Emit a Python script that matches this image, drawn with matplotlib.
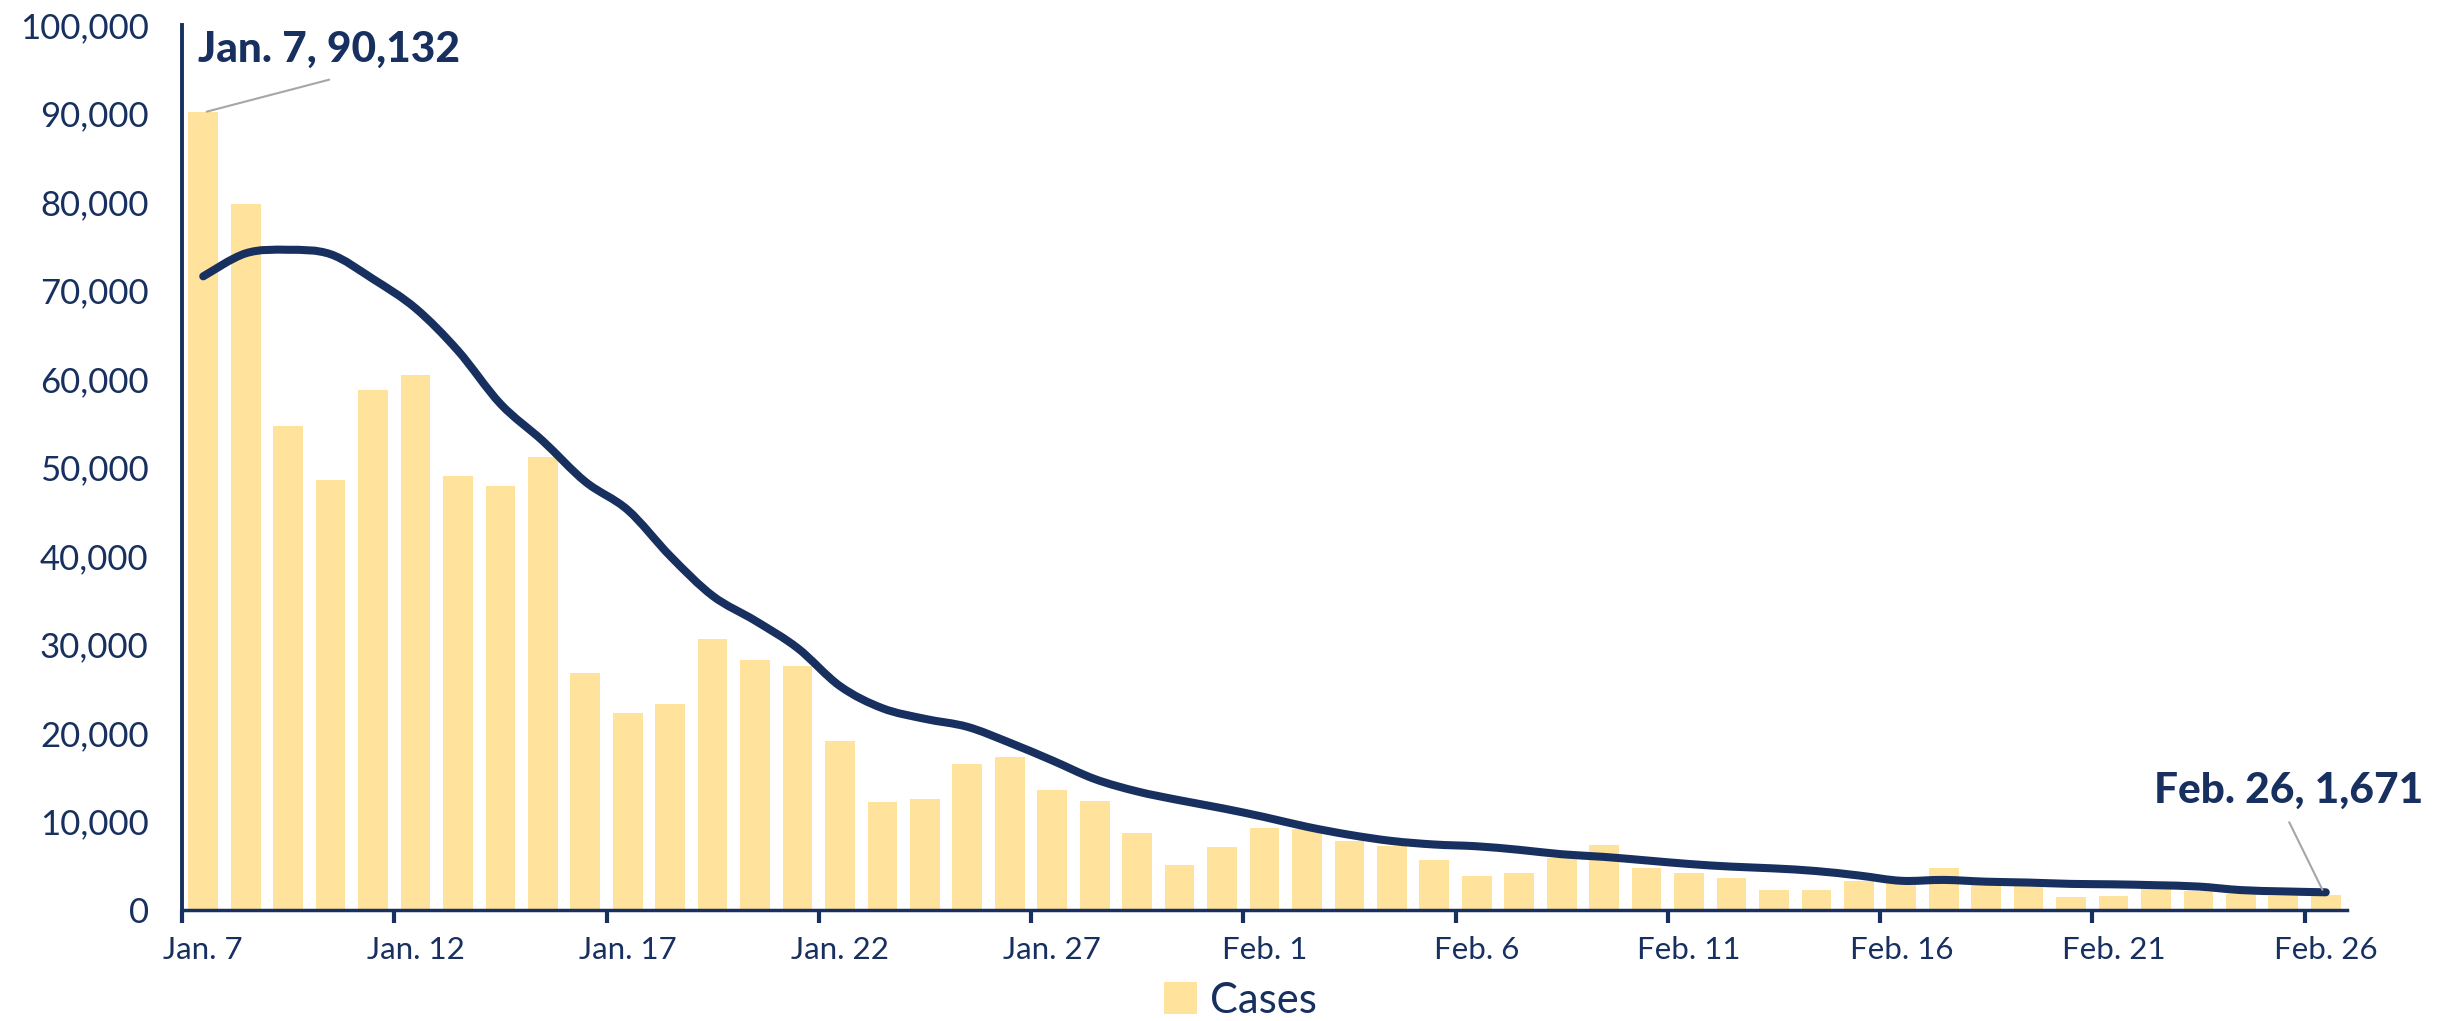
import matplotlib
matplotlib.use("Agg")
import matplotlib.pyplot as plt
from matplotlib.path import Path
from matplotlib.patches import PathPatch, Patch
import numpy as np

# ---- data ----
dates = (["Jan. %d" % d for d in range(7, 32)] +
         ["Feb. %d" % d for d in range(1, 27)])
cases = [90132, 79800, 54700, 48600, 58800, 60400, 49000, 47900, 51200,
         26800, 22300, 23300, 30600, 28300, 27600,
         19100, 12200, 12500, 16500, 17300, 13600, 12300, 8700, 5100, 7100,
         9300, 9100, 7800, 7200, 5600, 3800, 4200, 5900, 7400, 4700,
         4200, 3600, 2300, 2250, 3300, 3200, 4800, 3100, 2700, 1450,
         1550, 2400, 2200, 1800, 1600, 1671]
avg = [71600, 74200, 74600, 74100, 71300, 68000, 63200, 57200, 53000,
       48400, 45200, 40000, 35500, 32700, 29600,
       25300, 22800, 21600, 20700, 18900, 16900, 14800, 13400, 12400, 11500,
       10500, 9400, 8500, 7800, 7400, 7200, 6800, 6300, 6000, 5600,
       5200, 4900, 4700, 4400, 3900, 3300, 3400, 3200, 3100, 2950,
       2900, 2800, 2650, 2250, 2100, 2000]
tick_labels_every = 5
yticks = list(range(0, 100001, 10000))

NAVY = "#17305f"
BAR = "#ffe29b"
GRAY = "#a6a6a6"

plt.rcParams['font.family'] = ['Lato', 'DejaVu Sans']

fig = plt.figure(figsize=(24.43, 10.21), dpi=100)
ax = fig.add_axes([182/2443, 1-910/1021, (2347-182)/2443, (910-25)/1021])

x = np.arange(len(dates))
ax.bar(x, cases, width=0.7, color=BAR, zorder=2, label="Cases")

# smooth line (Catmull-Rom rendered as cubic Bezier path)
pts = np.column_stack([x, avg]).astype(float)
verts = [tuple(pts[0])]
codes = [Path.MOVETO]
n = len(pts)
for i in range(n - 1):
    p0 = pts[i - 1] if i > 0 else pts[i]
    p1 = pts[i]
    p2 = pts[i + 1]
    p3 = pts[i + 2] if i + 2 < n else pts[i + 1]
    c1 = p1 + (p2 - p0) / 6.0
    c2 = p2 - (p3 - p1) / 6.0
    verts += [tuple(c1), tuple(c2), tuple(p2)]
    codes += [Path.CURVE4] * 3
patch = PathPatch(Path(verts, codes), fill=False, edgecolor=NAVY, lw=5.8,
                  capstyle='round', joinstyle='round', zorder=3)
ax.add_patch(patch)

ax.set_xlim(-0.5, len(dates) - 0.5)
ax.set_ylim(0, 100000)

# ticks
lab_idx = list(range(0, len(dates), tick_labels_every))
ax.set_xticks(lab_idx)
ax.set_xticklabels([dates[i] for i in lab_idx])
ax.set_xticks([i - 0.5 for i in lab_idx], minor=True)
ax.tick_params(axis='x', which='major', length=0, pad=19, labelsize=22.5, labelcolor=NAVY)
ax.tick_params(axis='x', which='minor', length=9, width=3, color=NAVY)
ax.set_yticks(yticks)
ax.set_yticklabels(["{:,}".format(v) for v in yticks])
ax.tick_params(axis='y', length=0, pad=24, labelsize=25, labelcolor=NAVY)

for s in ['top', 'right']:
    ax.spines[s].set_visible(False)
ax.spines['left'].set_color(NAVY)
ax.spines['left'].set_linewidth(2.8)
ax.spines['bottom'].set_color(NAVY)
ax.spines['bottom'].set_linewidth(2.5)

# annotations
ax.annotate("", xy=(0.02, cases[0]), xytext=(3.03, 93900),
            arrowprops=dict(arrowstyle='-', color=GRAY, lw=1.5), zorder=4)
ax.text(-0.12, 97200, "Jan. 7, 90,132", fontsize=30.5, fontweight='black',
        color=NAVY, ha='left', va='center', zorder=5)
ax.annotate("", xy=(49.95, avg[-1]), xytext=(49.11, 10200),
            arrowprops=dict(arrowstyle='-', color=GRAY, lw=1.5), zorder=4)
ax.text(45.96, 13450, "Feb. 26, 1,671", fontsize=30.5, fontweight='black',
        color=NAVY, ha='left', va='center', clip_on=False, zorder=5)

handle = Patch(facecolor=BAR, edgecolor='none')
leg = fig.legend([handle], ["Cases"], loc='center', bbox_to_anchor=(0.5076, 0.02),
                 frameon=False, handlelength=0.8, handleheight=0.8,
                 handletextpad=0.3, fontsize=30)
for t in leg.get_texts():
    t.set_color(NAVY)

fig.savefig("out.png", dpi=100, facecolor='white')
